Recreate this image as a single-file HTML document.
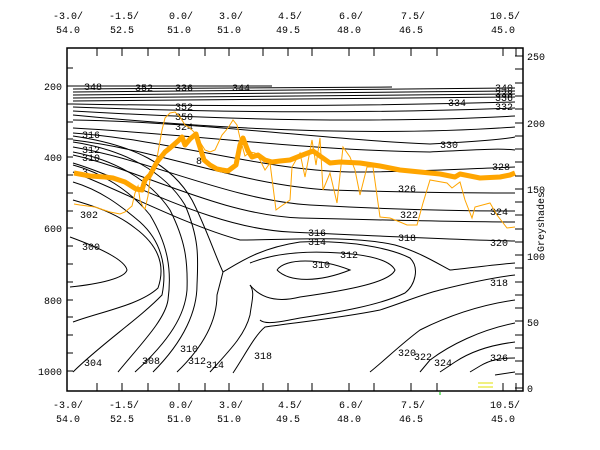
<!DOCTYPE html>
<html><head><meta charset="utf-8"><style>
html,body{margin:0;padding:0;background:#fff;}
svg{display:block;}
text{font-family:"Liberation Mono","DejaVu Sans Mono",monospace;font-size:10px;fill:#000;}
.c{fill:none;stroke:#000;stroke-width:1;}
.l{font-size:8px;}
</style></head><body>
<svg width="600" height="450" viewBox="0 0 600 450" xmlns="http://www.w3.org/2000/svg">
<rect x="0" y="0" width="600" height="450" fill="#fff"/>
<!-- contours upper -->
<g class="c">
<path d="M73,86 L272,86"/>
<path d="M73,89 L392,87"/>
<path d="M73,92 Q300,90 515,88"/>
<path d="M73,95 Q300,93 515,91"/>
<path d="M73,98 Q300,96 515,94"/>
<path d="M73,101 Q300,99 515,97"/>
<path d="M73,104 Q300,108 515,102"/>
<path d="M73,107 Q300,116 515,108"/>
<path d="M73,111 Q330,126 515,116"/>
<path d="M73,115 Q330,140 515,127"/>
<path d="M73,120 C200,122 330,140 430,144 C470,142 500,140 515,137"/>
<path d="M73,128 C200,135 300,150 430,152 C470,150 500,148 515,150"/>
<path d="M73,133 C170,140 260,170 350,172 C420,172 480,168 515,167"/>
<path d="M73,140 C160,150 240,185 330,190 C400,192 470,193 515,193"/>
<path d="M73,147 C150,160 230,200 310,205 C400,210 470,211 515,211"/>
<path d="M73,155 C140,170 220,215 300,218 C380,220 460,222 515,222"/>
<path d="M73,163 C130,180 210,228 290,232 C380,236 460,240 515,241"/>
<path d="M73,172 C120,190 185,225 240,240 C290,240 350,235 395,245 C420,252 440,265 450,270 C470,268 500,264 515,263"/>
<path d="M515,275 C490,278 460,285 440,290 C420,295 405,302 380,310 C340,318 300,322 265,327 C255,335 245,355 233,373"/>
<path d="M515,300 C480,305 450,315 420,330 C400,345 385,360 370,372"/>
<path d="M515,323 C480,330 450,345 430,360 L420,372"/>
<path d="M515,342 C490,345 470,352 455,362 L440,372"/>
<path d="M515,358 C500,358 490,360 480,366 L470,372"/>
<path d="M515,372 L495,375"/>
<path d="M470,372 L470,372"/>
<!-- middle / lower -->
<path d="M277,270 C285,258 320,258 350,270 C320,282 290,283 277,270"/>
<path d="M250,263 C270,255 300,250 340,253 C370,255 390,260 395,270 C390,282 350,290 300,297 C280,302 262,300 250,285"/>
<path d="M223,272 C240,262 260,248 300,242 C350,240 390,248 410,258 C420,268 415,285 405,293 C380,305 340,312 300,318 C280,322 265,325 260,320"/>
<path d="M70,237 C100,248 125,260 127,270 C125,278 100,284 70,287"/>
<path d="M73,322 C100,312 140,305 158,288 C166,265 158,245 135,228 C115,212 90,205 73,200"/>
<path d="M73,372 C100,345 140,318 162,295 C168,265 160,240 140,222 C120,205 100,190 73,182"/>
<path d="M118,372 C140,345 165,320 168,300 C172,270 168,245 150,215 C130,190 100,172 73,165"/>
<path d="M135,372 C170,340 185,315 187,290 C188,260 185,240 170,210 C150,180 115,160 73,152"/>
<path d="M153,372 C185,340 197,310 197,285 C198,260 200,240 185,205 C165,172 125,150 73,142"/>
<path d="M177,372 C205,345 217,320 217,295 L223,272 C215,255 205,225 192,200 C172,165 135,145 73,136"/>
<path d="M210,372 C230,350 245,335 250,315 C252,300 255,292 250,285"/>
</g>
<!-- contour labels -->
<g class="l">
<text x="84" y="90">348</text><text x="135" y="91">352</text><text x="175" y="91">336</text><text x="232" y="91">344</text>
<text x="495" y="91">340</text><text x="495" y="97">338</text><text x="495" y="101">336</text><text x="495" y="110">332</text>
<text x="448" y="106">334</text>
<text x="175" y="110">352</text><text x="175" y="120">350</text><text x="175" y="130">324</text>
<text x="82" y="138">316</text><text x="82" y="153">312</text><text x="82" y="161">310</text><text x="82" y="175">3</text>
<text x="440" y="148">330</text><text x="492" y="170">328</text><text x="398" y="192">326</text>
<text x="400" y="218">322</text><text x="490" y="215">324</text><text x="490" y="246">320</text>
<text x="398" y="241">318</text><text x="308" y="236">316</text><text x="308" y="245">314</text>
<text x="340" y="258">312</text><text x="312" y="268">310</text><text x="490" y="286">318</text>
<text x="80" y="218">302</text><text x="82" y="250">300</text>
<text x="84" y="366">304</text><text x="142" y="364">308</text><text x="180" y="352">310</text>
<text x="188" y="364">312</text><text x="206" y="368">314</text><text x="254" y="359">318</text>
<text x="398" y="356">320</text><text x="414" y="360">322</text><text x="434" y="366">324</text><text x="490" y="361">326</text>
<text x="196" y="164">8</text>
</g>
<!-- orange thin -->
<polyline fill="none" stroke="#FFA500" stroke-width="1" points="74,204 80,205 95,207 110,212 120,214 125,212 132,206 135,193 138,186 140,200 143,207 145,209 148,196 150,180 157,158 162,130 165,118 170,113 175,112 180,117 185,125 190,128 195,133 200,142 205,150 210,152 215,150 222,135 228,128 233,120 237,125 240,138 245,156 250,152 255,153 260,160 265,170 270,163 276,210 280,207 290,200 292,167 300,153 305,177 312,140 316,165 320,138 323,190 330,173 337,203 343,147 350,157 355,170 360,195 367,167 373,167 380,217 390,218 400,222 407,225 417,225 423,203 430,180 447,183 452,188 460,182 465,200 472,218 475,207 490,203 497,215 507,228 515,227"/>
<!-- orange thick -->
<polyline fill="none" stroke="#FFA500" stroke-width="5" stroke-linejoin="round" points="74,173 90,176 105,177 113,178 125,182 136,189 142,190 145,180 150,175 157,162 165,152 170,148 178,141 182,137 185,145 190,139 196,134 198,141 204,160 210,165 217,169 222,170 228,171 236,165 240,145 243,138 248,151 252,157 258,155 265,160 272,162 280,161 290,160 300,156 313,151 320,156 330,163 340,162 360,163 380,166 400,170 420,172 440,174 455,177 460,174 480,178 500,177 510,175 515,173"/>
<!-- frame -->
<rect x="67" y="48" width="456" height="343" fill="none" stroke="#000" stroke-width="1.5"/>
<g stroke="#000" stroke-width="1">
<!-- left ticks every 50 hPa: 400->157, 17.8px -->
<path d="M67,68h6M67,86h6M67,104h6M67,122h6M67,139h6M67,157h6M67,175h6M67,193h6M67,211h6M67,228h6M67,246h6M67,264h6M67,282h6M67,300h6M67,317h6M67,335h6M67,353h6M67,371h6"/>
<!-- right ticks every 10 greyshades -->
<path d="M515,56h8M515,69h8M515,83h8M515,96h8M515,109h8M515,123h8M515,136h8M515,149h8M515,162h8M515,176h8M515,189h8M515,202h8M515,215h8M515,229h8M515,242h8M515,255h8M515,268h8M515,282h8M515,295h8M515,308h8M515,321h8M515,335h8M515,348h8M515,361h8M515,374h8M515,388h8"/>
<!-- top/bottom ticks -->
<path d="M97,48v8M122,48v8M148,48v8M179,48v8M205,48v8M229,48v8M263,48v8M288,48v8M312,48v8M349,48v8M374,48v8M411,48v8M437,48v8M503,48v8M516,48v8"/>
<path d="M97,391v-8M122,391v-8M148,391v-8M179,391v-8M205,391v-8M229,391v-8M263,391v-8M288,391v-8M312,391v-8M349,391v-8M374,391v-8M411,391v-8M437,391v-8M503,391v-8M516,391v-8"/>
</g>
<line x1="478" y1="383" x2="493" y2="383" stroke="#e0e000"/>
<line x1="478" y1="387" x2="493" y2="387" stroke="#e0e000"/>
<line x1="440" y1="392" x2="440" y2="395" stroke="#0c0"/>
<!-- left axis labels -->
<g text-anchor="end">
<text x="62" y="90">200</text><text x="62" y="161">400</text><text x="62" y="232">600</text><text x="62" y="304">800</text><text x="62" y="375">1000</text>
</g>
<!-- right axis labels -->
<text x="527" y="60">250</text><text x="527" y="127">200</text><text x="527" y="193">150</text><text x="527" y="260">100</text><text x="527" y="326">50</text><text x="527" y="392">0</text>
<text transform="translate(544,222) rotate(-90)" text-anchor="middle">Greyshades</text>
<!-- top labels -->
<g text-anchor="middle">
<text x="68" y="19">-3.0/</text><text x="68" y="33">54.0</text>
<text x="124" y="19">-1.5/</text><text x="122" y="33">52.5</text>
<text x="181" y="19">0.0/</text><text x="179" y="33">51.0</text>
<text x="231" y="19">3.0/</text><text x="229" y="33">51.0</text>
<text x="290" y="19">4.5/</text><text x="288" y="33">49.5</text>
<text x="351" y="19">6.0/</text><text x="349" y="33">48.0</text>
<text x="413" y="19">7.5/</text><text x="411" y="33">46.5</text>
<text x="505" y="19">10.5/</text><text x="503" y="33">45.0</text>
</g>
<g text-anchor="middle">
<text x="68" y="408">-3.0/</text><text x="68" y="422">54.0</text>
<text x="124" y="408">-1.5/</text><text x="122" y="422">52.5</text>
<text x="181" y="408">0.0/</text><text x="179" y="422">51.0</text>
<text x="231" y="408">3.0/</text><text x="229" y="422">51.0</text>
<text x="290" y="408">4.5/</text><text x="288" y="422">49.5</text>
<text x="351" y="408">6.0/</text><text x="349" y="422">48.0</text>
<text x="413" y="408">7.5/</text><text x="411" y="422">46.5</text>
<text x="505" y="408">10.5/</text><text x="503" y="422">45.0</text>
</g>
</svg>
</body></html>
